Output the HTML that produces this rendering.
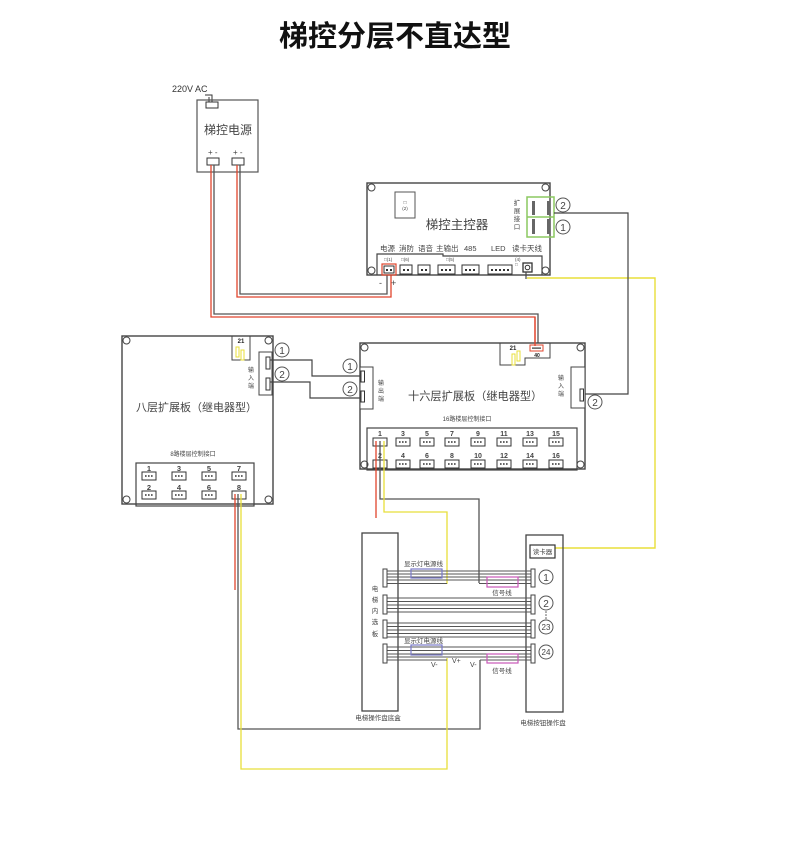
<!DOCTYPE html>
<html><head><meta charset="utf-8"><style>
html,body{margin:0;padding:0;background:#fff;}
svg{display:block;}
text{font-family:"Liberation Sans","Noto Sans CJK SC",sans-serif;fill:#444;}
</style></head><body>
<svg width="790" height="841" viewBox="0 0 790 841" xmlns="http://www.w3.org/2000/svg">
<rect width="790" height="841" fill="#fff"/>
<!-- Title -->
<text x="395" y="46" font-size="29" font-weight="bold" text-anchor="middle" style="fill:#111">梯控分层不直达型</text>

<!-- Power supply -->
<text x="172" y="92" font-size="9" style="fill:#333">220V AC</text>
<path d="M205,95 H212 V102 M209,97 V102" stroke="#333" stroke-width="1" fill="none"/>
<rect x="206" y="102" width="12" height="6" fill="#fff" stroke="#333"/>
<rect x="197" y="100" width="61" height="72" fill="none" stroke="#555" stroke-width="1.2"/>
<text x="228" y="134" font-size="12" text-anchor="middle">梯控电源</text>
<text x="208" y="155" font-size="8">+ -</text>
<text x="233" y="155" font-size="8">+ -</text>
<rect x="207" y="158" width="12" height="7" fill="#fff" stroke="#333"/>
<rect x="232" y="158" width="12" height="7" fill="#fff" stroke="#333"/>

<!-- wires power -> 16 layer -->
<path d="M211,165 V317 H535 V346" stroke="#e0452d" stroke-width="1.3" fill="none"/>
<path d="M214,165 V314 H538 V346" stroke="#555" stroke-width="1.3" fill="none"/>
<!-- wires power -> controller -->
<path d="M237,165 V297 H391 V275" stroke="#e0452d" stroke-width="1.3" fill="none"/>
<path d="M240,165 V294 H387 V275" stroke="#555" stroke-width="1.3" fill="none"/>

<!-- Main controller -->
<rect x="367" y="183" width="183" height="92" fill="#fff" stroke="#444" stroke-width="1.4"/>
<g fill="#fff" stroke="#444" stroke-width="1">
<circle cx="371.5" cy="187.5" r="3.5"/><circle cx="545.5" cy="187.5" r="3.5"/>
<circle cx="371.5" cy="270.5" r="3.5"/><circle cx="545.5" cy="270.5" r="3.5"/>
</g>
<rect x="395" y="192" width="20" height="26" fill="none" stroke="#555"/>
<text x="405" y="204" font-size="5" text-anchor="middle">□</text>
<text x="405" y="210" font-size="4.5" text-anchor="middle">(2)</text>
<text x="457" y="229" font-size="12.5" text-anchor="middle">梯控主控器</text>
<g font-size="6.5" text-anchor="middle"><text x="517" y="205">扩</text><text x="517" y="213">展</text><text x="517" y="221">接</text><text x="517" y="229">口</text></g>
<rect x="527" y="197" width="27" height="40" fill="none" stroke="#8cc860" stroke-width="1.5"/>
<line x1="527" y1="217" x2="554" y2="217" stroke="#8cc860" stroke-width="1.5"/>
<g fill="#666"><rect x="532" y="201" width="3" height="14"/><rect x="547" y="201" width="3" height="14"/><rect x="532" y="219" width="3" height="15"/><rect x="547" y="219" width="3" height="15"/></g>
<g fill="none" stroke="#555" stroke-width="1"><circle cx="563" cy="205" r="7"/><circle cx="563" cy="227" r="7"/></g>
<g font-size="10" text-anchor="middle"><text x="563" y="209">2</text><text x="563" y="231">1</text></g>
<g font-size="7.5"><text x="380" y="251">电源</text><text x="399" y="251">消防</text><text x="418" y="251">语音</text><text x="436" y="251">主输出</text><text x="464" y="251">485</text><text x="491" y="251">LED</text><text x="512" y="251">读卡天线</text></g>
<path d="M377,275 V254 H443 V256 H542 V275" fill="none" stroke="#444" stroke-width="1.2"/>
<g font-size="4.5"><text x="384" y="261">□(1)</text><text x="401" y="261">□(6)</text><text x="446" y="261">□(5)</text><text x="515" y="261">(4)</text><text x="515" y="266">□</text></g>
<rect x="382" y="264" width="14" height="11" fill="none" stroke="#e0452d" stroke-width="1.2"/>
<rect x="384" y="266" width="10" height="7" fill="none" stroke="#333"/>
<g fill="none" stroke="#333"><rect x="400" y="265" width="12" height="9"/><rect x="418" y="265" width="12" height="9"/><rect x="438" y="265" width="17" height="9"/><rect x="462" y="265" width="17" height="9"/><rect x="488" y="265" width="24" height="9"/><rect x="523" y="263" width="9" height="9" stroke-width="1.3"/><circle cx="527.5" cy="267.5" r="2.3"/></g>
<g fill="#333">
<rect x="386" y="269" width="2" height="2"/><rect x="390" y="269" width="2" height="2"/>
<rect x="403" y="269" width="2" height="2"/><rect x="407" y="269" width="2" height="2"/>
<rect x="421" y="269" width="2" height="2"/><rect x="425" y="269" width="2" height="2"/>
<rect x="441" y="269" width="2" height="2"/><rect x="445" y="269" width="2" height="2"/><rect x="449" y="269" width="2" height="2"/>
<rect x="465" y="269" width="2" height="2"/><rect x="469" y="269" width="2" height="2"/><rect x="473" y="269" width="2" height="2"/>
<rect x="491" y="269" width="2" height="2"/><rect x="495" y="269" width="2" height="2"/><rect x="499" y="269" width="2" height="2"/><rect x="503" y="269" width="2" height="2"/><rect x="507" y="269" width="2" height="2"/>
</g>
<text x="379" y="286" font-size="9">-</text>
<text x="391" y="286" font-size="9">+</text>

<!-- yellow antenna -> card reader -->
<path d="M526,272 V279" stroke="#444" stroke-width="1.2" fill="none"/>
<path d="M527,278 H655 V548 H555" stroke="#e8df3a" stroke-width="1.4" fill="none"/>
<!-- expansion -> 16 layer input -->
<path d="M554,213 H628 V394 H583" stroke="#444" stroke-width="1.2" fill="none"/>

<!-- 8 layer board -->
<rect x="122" y="336" width="151" height="168" fill="#fff" stroke="#444" stroke-width="1.4"/>
<g fill="#fff" stroke="#444" stroke-width="1">
<circle cx="126.5" cy="340.5" r="3.5"/><circle cx="268.5" cy="340.5" r="3.5"/>
<circle cx="126.5" cy="499.5" r="3.5"/><circle cx="268.5" cy="499.5" r="3.5"/>
</g>
<path d="M232,336 V360 H250 V336" fill="none" stroke="#444"/>
<text x="241" y="343" font-size="6" font-weight="bold" text-anchor="middle" style="fill:#222">21</text>
<rect x="236" y="347" width="3" height="10" fill="none" stroke="#e8df3a"/>
<rect x="241" y="350" width="3" height="10" fill="none" stroke="#e8df3a"/>
<rect x="259" y="352" width="13" height="43" fill="#fff" stroke="#444"/>
<rect x="266" y="357" width="4" height="12" fill="#fff" stroke="#333"/>
<rect x="266" y="378" width="4" height="12" fill="#fff" stroke="#333"/>
<g font-size="6" text-anchor="middle"><text x="251" y="372">输</text><text x="251" y="380">入</text><text x="251" y="388">端</text></g>
<g fill="none" stroke="#555" stroke-width="1"><circle cx="282" cy="350" r="7"/><circle cx="282" cy="374" r="7"/></g>
<g font-size="10" text-anchor="middle"><text x="282" y="354">1</text><text x="282" y="378">2</text></g>
<text x="136" y="411" font-size="11">八层扩展板（继电器型）</text>
<text x="193" y="456" font-size="6" text-anchor="middle">8路楼层控制接口</text>
<rect x="136" y="463" width="118" height="43" fill="none" stroke="#444" stroke-width="1.2"/>
<g font-size="7.5" font-weight="bold" text-anchor="middle" style="fill:#333">
<text x="149" y="471">1</text><text x="179" y="471">3</text><text x="209" y="471">5</text><text x="239" y="471">7</text>
<text x="149" y="490">2</text><text x="179" y="490">4</text><text x="209" y="490">6</text><text x="239" y="490">8</text>
</g>
<g fill="#fff" stroke="#333">
<rect x="142" y="472" width="14" height="8"/><rect x="172" y="472" width="14" height="8"/><rect x="202" y="472" width="14" height="8"/><rect x="232" y="472" width="14" height="8"/>
<rect x="142" y="491" width="14" height="8"/><rect x="172" y="491" width="14" height="8"/><rect x="202" y="491" width="14" height="8"/><rect x="232" y="491" width="14" height="8"/>
</g>
<g stroke="#333" stroke-width="1.6" stroke-dasharray="1.6 1.4">
<line x1="145" y1="476" x2="153" y2="476"/><line x1="175" y1="476" x2="183" y2="476"/><line x1="205" y1="476" x2="213" y2="476"/><line x1="235" y1="476" x2="243" y2="476"/>
<line x1="145" y1="495" x2="153" y2="495"/><line x1="175" y1="495" x2="183" y2="495"/><line x1="205" y1="495" x2="213" y2="495"/>
</g>

<!-- 8 -> 16 connection -->
<path d="M270,360 H312 V376 H362" stroke="#444" stroke-width="1.2" fill="none"/>
<path d="M270,382 H310 V398 H362" stroke="#444" stroke-width="1.2" fill="none"/>

<!-- 16 layer board -->
<rect x="360" y="343" width="225" height="126" fill="#fff" stroke="#444" stroke-width="1.4"/>
<g fill="#fff" stroke="#444" stroke-width="1">
<circle cx="364.5" cy="347.5" r="3.5"/><circle cx="580.5" cy="347.5" r="3.5"/>
<circle cx="364.5" cy="464.5" r="3.5"/><circle cx="580.5" cy="464.5" r="3.5"/>
</g>
<path d="M500,343 V365 H525 V358 H550 V343" fill="none" stroke="#444"/>
<text x="513" y="350" font-size="6" font-weight="bold" text-anchor="middle" style="fill:#222">21</text>
<rect x="512" y="354" width="3" height="11" fill="none" stroke="#e8df3a"/>
<rect x="517" y="351" width="3" height="10" fill="none" stroke="#e8df3a"/>
<rect x="530" y="345" width="13" height="6" fill="none" stroke="#e0452d"/>
<rect x="532" y="347.5" width="9" height="1.2" fill="#333"/>
<text x="537" y="357" font-size="5" font-weight="bold" text-anchor="middle" style="fill:#222">40</text>
<path d="M535,317 V346" stroke="#e0452d" stroke-width="1.3" fill="none"/>
<rect x="360" y="367" width="13" height="42" fill="#fff" stroke="#444"/>
<rect x="361" y="371" width="3.5" height="11" fill="#fff" stroke="#333"/>
<rect x="361" y="391" width="3.5" height="11" fill="#fff" stroke="#333"/>
<g font-size="6" text-anchor="middle"><text x="381" y="385">输</text><text x="381" y="393">出</text><text x="381" y="401">端</text></g>
<g fill="#fff" stroke="#555" stroke-width="1"><circle cx="350" cy="366" r="7"/><circle cx="350" cy="389" r="7"/></g>
<g font-size="10" text-anchor="middle"><text x="350" y="370">1</text><text x="350" y="393">2</text></g>
<rect x="571" y="367" width="14" height="41" fill="#fff" stroke="#444"/>
<rect x="580" y="389" width="3.5" height="12" fill="#fff" stroke="#333"/>
<g font-size="6" text-anchor="middle"><text x="561" y="380">输</text><text x="561" y="388">入</text><text x="561" y="396">端</text></g>
<circle cx="595" cy="402" r="7" fill="none" stroke="#555"/>
<text x="595" y="406" font-size="10" text-anchor="middle">2</text>
<text x="408" y="400" font-size="11.2">十六层扩展板（继电器型）</text>
<text x="467" y="421" font-size="6" text-anchor="middle">16路楼层控制接口</text>
<rect x="367" y="428" width="210" height="42" fill="none" stroke="#444" stroke-width="1.2"/>
<g font-size="7" font-weight="bold" text-anchor="middle" style="fill:#333">
<text x="380" y="436">1</text><text x="403" y="436">3</text><text x="427" y="436">5</text><text x="452" y="436">7</text><text x="478" y="436">9</text><text x="504" y="436">11</text><text x="530" y="436">13</text><text x="556" y="436">15</text>
<text x="380" y="458">2</text><text x="403" y="458">4</text><text x="427" y="458">6</text><text x="452" y="458">8</text><text x="478" y="458">10</text><text x="504" y="458">12</text><text x="530" y="458">14</text><text x="556" y="458">16</text>
</g>
<g fill="#fff" stroke="#333">
<rect x="373" y="438" width="14" height="8"/><rect x="396" y="438" width="14" height="8"/><rect x="420" y="438" width="14" height="8"/><rect x="445" y="438" width="14" height="8"/><rect x="471" y="438" width="14" height="8"/><rect x="497" y="438" width="14" height="8"/><rect x="523" y="438" width="14" height="8"/><rect x="549" y="438" width="14" height="8"/>
<rect x="373" y="460" width="14" height="8"/><rect x="396" y="460" width="14" height="8"/><rect x="420" y="460" width="14" height="8"/><rect x="445" y="460" width="14" height="8"/><rect x="471" y="460" width="14" height="8"/><rect x="497" y="460" width="14" height="8"/><rect x="523" y="460" width="14" height="8"/><rect x="549" y="460" width="14" height="8"/>
</g>
<g stroke="#333" stroke-width="1.6" stroke-dasharray="1.6 1.4">
<line x1="399" y1="442" x2="407" y2="442"/><line x1="423" y1="442" x2="431" y2="442"/><line x1="448" y1="442" x2="456" y2="442"/><line x1="474" y1="442" x2="482" y2="442"/><line x1="500" y1="442" x2="508" y2="442"/><line x1="526" y1="442" x2="534" y2="442"/><line x1="552" y1="442" x2="560" y2="442"/>
<line x1="399" y1="464" x2="407" y2="464"/><line x1="423" y1="464" x2="431" y2="464"/><line x1="448" y1="464" x2="456" y2="464"/><line x1="474" y1="464" x2="482" y2="464"/><line x1="500" y1="464" x2="508" y2="464"/><line x1="526" y1="464" x2="534" y2="464"/><line x1="552" y1="464" x2="560" y2="464"/>
</g>

<!-- wires from 16 layer #1 -->
<path d="M376,441 V518" stroke="#e0452d" stroke-width="1.3" fill="none"/>
<path d="M380,441 V499 H479 V583" stroke="#555" stroke-width="1.3" fill="none"/>
<path d="M384,441 V512 H447 V584" stroke="#e8df3a" stroke-width="1.3" fill="none"/>

<!-- wires from 8 layer #8 -->
<path d="M235,494 V590" stroke="#e0452d" stroke-width="1.3" fill="none"/>
<path d="M238,494 V729 H480 V660" stroke="#555" stroke-width="1.3" fill="none"/>
<path d="M241,494 V769 H447 V658" stroke="#e8df3a" stroke-width="1.3" fill="none"/>

<!-- bottom boxes -->
<rect x="362" y="533" width="36" height="178" fill="none" stroke="#444" stroke-width="1.3"/>
<rect x="526" y="535" width="37" height="177" fill="none" stroke="#444" stroke-width="1.3"/>
<rect x="530" y="545" width="25" height="13" fill="#fff" stroke="#333" stroke-width="1.2"/>
<text x="542.5" y="554" font-size="6.5" text-anchor="middle">读卡器</text>

<!-- cable groups -->
<g stroke="#555" stroke-width="1">
<line x1="387" y1="571" x2="531" y2="571"/><line x1="387" y1="574" x2="531" y2="574"/><line x1="387" y1="577" x2="531" y2="577"/><line x1="387" y1="580" x2="531" y2="580"/><line x1="387" y1="583.5" x2="447" y2="583.5"/><line x1="479" y1="583.5" x2="531" y2="583.5"/>
<line x1="387" y1="598" x2="531" y2="598"/><line x1="387" y1="601.5" x2="531" y2="601.5"/><line x1="387" y1="605" x2="531" y2="605"/><line x1="387" y1="608.5" x2="531" y2="608.5"/><line x1="387" y1="612" x2="531" y2="612"/>
<line x1="387" y1="623" x2="531" y2="623"/><line x1="387" y1="626.5" x2="531" y2="626.5"/><line x1="387" y1="630" x2="531" y2="630"/><line x1="387" y1="633.5" x2="531" y2="633.5"/><line x1="387" y1="637" x2="531" y2="637"/>
<line x1="387" y1="647" x2="531" y2="647"/><line x1="387" y1="650.5" x2="531" y2="650.5"/><line x1="387" y1="654" x2="531" y2="654"/><line x1="387" y1="657" x2="531" y2="657"/><line x1="387" y1="660" x2="447" y2="660"/><line x1="480" y1="660" x2="531" y2="660"/>
</g>
<g fill="#fff" stroke="#444" stroke-width="1">
<rect x="383" y="569" width="4" height="18"/><rect x="383" y="595" width="4" height="19"/><rect x="383" y="620" width="4" height="18"/><rect x="383" y="644" width="4" height="19"/>
<rect x="531" y="569" width="4" height="18"/><rect x="531" y="595" width="4" height="19"/><rect x="531" y="620" width="4" height="18"/><rect x="531" y="644" width="4" height="19"/>
</g>
<rect x="411" y="569" width="31" height="9" fill="none" stroke="#7a7ac8" stroke-width="1.2"/>
<rect x="411" y="645" width="31" height="10" fill="none" stroke="#7a7ac8" stroke-width="1.2"/>
<rect x="487" y="577" width="31" height="10" fill="none" stroke="#c858b8" stroke-width="1.2"/>
<rect x="487" y="654" width="31" height="9" fill="none" stroke="#c858b8" stroke-width="1.2"/>
<g font-size="6.5"><text x="404" y="566">显示灯电源线</text><text x="404" y="643">显示灯电源线</text></g>
<g font-size="6.5" text-anchor="middle"><text x="502" y="595">信号线</text><text x="502" y="673">信号线</text></g>
<g font-size="6.5" text-anchor="middle"><text x="375" y="591">电</text><text x="375" y="602">梯</text><text x="375" y="613">内</text><text x="375" y="624">选</text><text x="375" y="636">板</text></g>
<g fill="none" stroke="#555" stroke-width="1"><circle cx="546" cy="577" r="7"/><circle cx="546" cy="603" r="7"/><circle cx="546" cy="627" r="7"/><circle cx="546" cy="652" r="7"/></g>
<g font-size="10" text-anchor="middle"><text x="546" y="581">1</text><text x="546" y="607">2</text></g>
<g font-size="8" text-anchor="middle"><text x="546" y="630">23</text><text x="546" y="655">24</text></g>
<g fill="#555"><circle cx="546" cy="612" r="0.8"/><circle cx="546" cy="615" r="0.8"/><circle cx="546" cy="618" r="0.8"/></g>
<g font-size="7" style="fill:#e0603a"><text x="431" y="667">V-</text><text x="452" y="663">V+</text><text x="470" y="667">V-</text></g>
<text x="378" y="720" font-size="6.5" text-anchor="middle">电梯操作盘底盒</text>
<text x="543" y="725" font-size="6.5" text-anchor="middle">电梯按钮操作盘</text>
</svg>
</body></html>
